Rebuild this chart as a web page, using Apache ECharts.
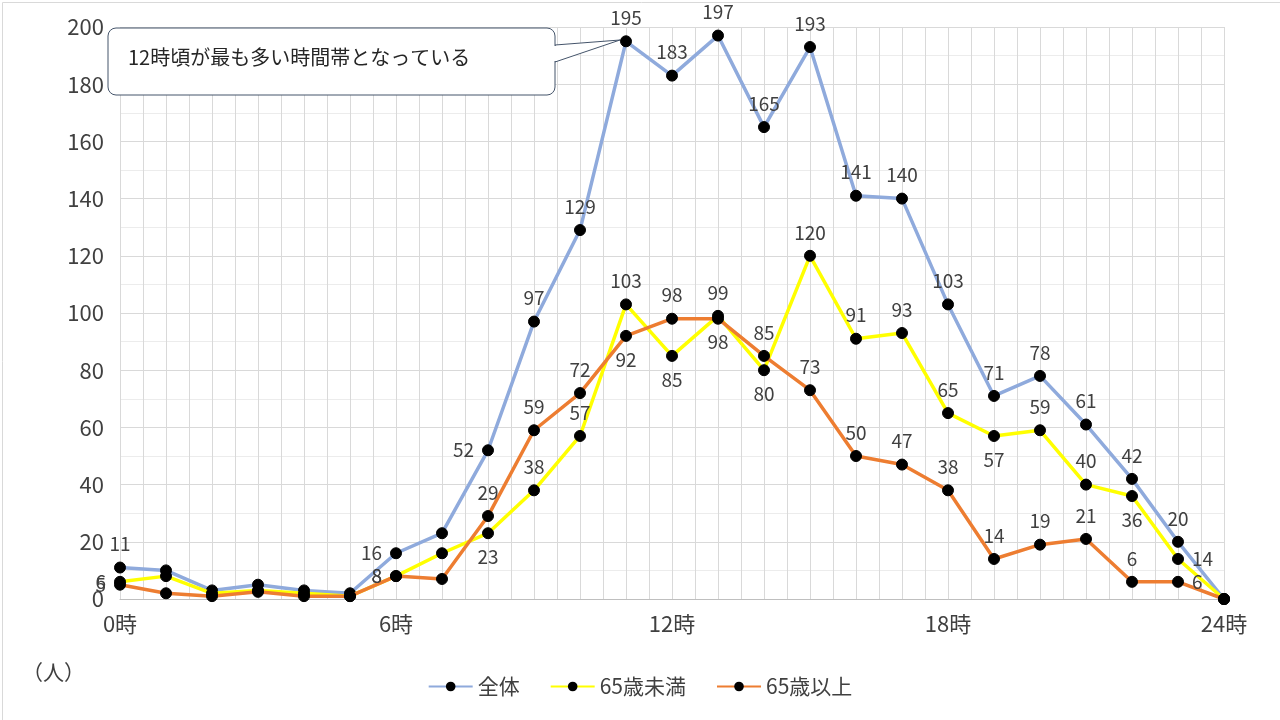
<!DOCTYPE html>
<html>
<head>
<meta charset="utf-8">
<script src="https://cdn.jsdelivr.net/npm/echarts@6/dist/echarts.min.js"></script>
<style>
  html, body { margin: 0; padding: 0; background: #fff; }
  #chart { width: 1280px; height: 720px; }
</style>
</head>
<body>
<div id="chart"></div>
<script>
// Hours 0..24
const hours = [0, 1, 2, 3, 4, 5, 6, 7, 8, 9, 10, 11, 12, 13, 14, 15, 16, 17, 18, 19, 20, 21, 22, 23, 24];
const totalValues = [11, 10, 3, 5, 3, 2, 16, 23, 52, 97, 129, 195, 183, 197, 165, 193, 141, 140, 103, 71, 78, 61, 42, 20, 0];
const under65Values = [6, 8, 2, 3, 2, 1, 8, 16, 23, 38, 57, 103, 85, 99, 80, 120, 91, 93, 65, 57, 59, 40, 36, 14, 0];
const over65Values = [5, 2, 1, 2.5, 1, 1, 8, 7, 29, 59, 72, 92, 98, 98, 85, 73, 50, 47, 38, 14, 19, 21, 6, 6, 0];
const xTickLabels = { 0: "0時", 6: "6時", 12: "12時", 18: "18時", 24: "24時" };

// Which points carry a label, and where it goes
const hiddenHours = [1, 2, 3, 4, 5, 7, 24];
const totalPos = { 0: "top", 6: "left", 8: "left" };
const under65Pos = { 0: "left", 6: "left", 8: "bottom", 10: "top", 12: "bottom", 14: "bottom", 19: "bottom", 22: "bottom", 23: "right", 11: "top" };
const over65Pos = { 0: "left", 6: "left", 8: "top", 9: "top", 10: "top", 11: "bottom", 12: "top", 13: "bottom", 14: "top", 15: "top", 22: "top", 23: "right" };

function buildSeries(name, color, values, posMap, defaultPos) {
  return {
    name: name,
    type: "line",
    symbol: "circle",
    symbolSize: 11,
    z: name === "全体" ? 2 : 3,
    lineStyle: { color: color, width: 3.5 },
    itemStyle: { color: "#000", borderColor: "#000" },
    data: values.map((v, i) => ({
      value: [hours[i], v],
      label: {
        show: !hiddenHours.includes(hours[i]),
        position: posMap[i] || defaultPos,
        distance: 8,
        formatter: String(Math.round(v)),
      },
    })),
    label: { color: "#404040", fontSize: 19, fontFamily: "Noto Sans CJK JP" },
  };
}

const chart = echarts.init(document.getElementById("chart"));
chart.setOption({
  animation: false,
  textStyle: { fontFamily: "Noto Sans CJK JP" },
  grid: { left: 120, right: 56, top: 27, bottom: 121 },
  xAxis: {
    type: "value",
    min: 0,
    max: 24,
    interval: 0.5,
    axisLine: { lineStyle: { color: "#bfbfbf" } },
    axisTick: { show: false },
    axisLabel: {
      color: "#404040",
      fontSize: 22,
      margin: 14,
      formatter: (v) => xTickLabels[v] || "",
    },
    splitLine: { lineStyle: { color: "#d9d9d9" } },
  },
  yAxis: {
    type: "value",
    min: 0,
    max: 200,
    interval: 20,
    axisLine: { show: false },
    axisTick: { show: false },
    axisLabel: { color: "#404040", fontSize: 22, margin: 16 },
    splitLine: { lineStyle: { color: "#d9d9d9" } },
    minorTick: { show: false, splitNumber: 2 },
    minorSplitLine: { show: true, lineStyle: { color: "#ececec" } },
  },
  legend: {
    bottom: 18,
    left: "center",
    itemWidth: 44,
    itemHeight: 12,
    itemGap: 30,
    textStyle: { color: "#404040", fontSize: 21 },
    data: ["全体", "65歳未満", "65歳以上"],
  },
  series: [
    buildSeries("全体", "#8faadc", totalValues, totalPos, "top"),
    buildSeries("65歳未満", "#ffff00", under65Values, under65Pos, "top"),
    buildSeries("65歳以上", "#ed7d31", over65Values, over65Pos, "top"),
  ],
  graphic: [
    {
      type: "rect",
      left: 0, top: 0,
      shape: { width: 1278, height: 718 },
      style: { fill: "none", stroke: "#d9d9d9", lineWidth: 1 },
      silent: true,
    },
    {
      type: "polygon",
      shape: { points: [[555, 45], [620, 40], [555, 62]] },
      style: { fill: "#fff", stroke: "#44546a", lineWidth: 1 },
      z: 10,
    },
    {
      type: "rect",
      shape: { x: 108, y: 28, width: 447, height: 67, r: 8 },
      style: { fill: "#fff", stroke: "#44546a", lineWidth: 1 },
      z: 11,
    },
    {
      type: "rect",
      shape: { x: 553, y: 46, width: 4, height: 15 },
      style: { fill: "#fff" },
      z: 12,
    },
    {
      type: "text",
      left: 128, top: 47,
      style: { text: "12時頃が最も多い時間帯となっている", fontSize: 20, fill: "#262626", fontFamily: "Noto Sans CJK JP" },
      z: 13,
    },
    {
      type: "text",
      left: 22, top: 662,
      style: { text: "（人）", fontSize: 21, fill: "#404040", fontFamily: "Noto Sans CJK JP" },
    },
  ],
});
</script>
</body>
</html>
